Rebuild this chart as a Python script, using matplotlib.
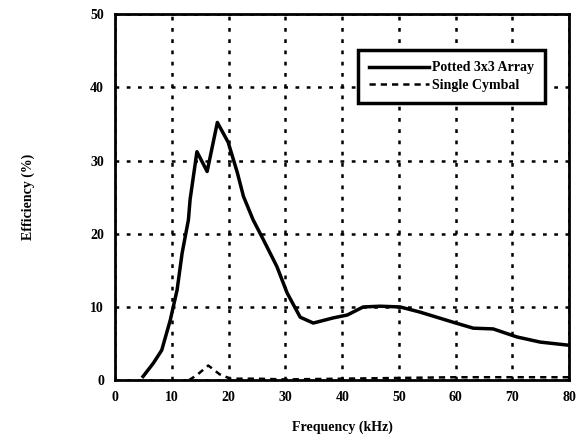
import matplotlib
matplotlib.use("Agg")
import matplotlib.pyplot as plt

freq_array = [4.9, 6.7, 8.2, 9.7, 10.9, 11.8, 12.9, 13.2, 14.4, 16.2, 18.0, 19.9, 21.5, 22.6,
              24.3, 26.1, 28.5, 30.3, 32.6, 34.9, 38.4, 40.9, 43.7, 46.7, 50.2, 53.7, 59.6,
              63.1, 66.6, 70.8, 74.9, 79.6]
eff_array = [0.5, 2.3, 4.1, 8.2, 12.3, 17.4, 21.9, 24.7, 31.2, 28.5, 35.2, 32.5, 28.4, 25.1,
             21.9, 19.2, 15.5, 11.9, 8.6, 7.8, 8.5, 8.9, 10.0, 10.1, 10.0, 9.3, 7.9,
             7.1, 7.0, 5.9, 5.2, 4.8]

freq_single = [13.0, 14.4, 16.4, 18.4, 20.3, 25.0, 30.0, 40.0, 50.0, 60.0, 70.0, 80.0]
eff_single = [0.0, 0.7, 2.0, 0.8, 0.2, 0.2, 0.1, 0.2, 0.3, 0.4, 0.4, 0.4]

xticks = [0, 10, 20, 30, 40, 50, 60, 70, 80]
yticks = [0, 10, 20, 30, 40, 50]

plt.rcParams['font.family'] = ['Liberation Serif', 'DejaVu Serif']
plt.rcParams['font.weight'] = 'bold'

fig = plt.figure(figsize=(5.79, 4.4), dpi=100)
ax = fig.add_axes([0.199, 0.136, 0.784, 0.832])

ax.plot(freq_array, eff_array, color='black', lw=2.5, label='Potted 3x3 Array')
ax.plot(freq_single, eff_single, color='black', lw=1.8, ls=(0, (2.5, 2)), label='Single Cymbal')

ax.set_xlim(0, 80)
ax.set_ylim(0, 50)
ax.set_xticks(xticks)
ax.set_yticks(yticks)
ax.tick_params(length=0, labelsize=10, pad=8)
for lab in ax.get_xticklabels() + ax.get_yticklabels():
    lab.set_fontweight('bold')
ax.grid(True, color='black', ls=(0, (1.5, 3)), lw=1.8)
for s in ax.spines.values():
    s.set_linewidth(2)

ax.set_xlabel('Frequency (kHz)', fontsize=10, fontweight='bold', labelpad=12)
ax.set_ylabel('Efficiency (%)', fontsize=10, fontweight='bold', labelpad=40)

leg = ax.legend(loc='upper left', bbox_to_anchor=(0.52, 0.92), fancybox=False,
                edgecolor='black', framealpha=1, fontsize=10, handlelength=4.3,
                handletextpad=0.2, borderpad=0.8, labelspacing=0.3)
leg.get_frame().set_linewidth(2.5)
for t in leg.get_texts():
    t.set_fontweight('bold')

fig.savefig('out.png', dpi=100)
